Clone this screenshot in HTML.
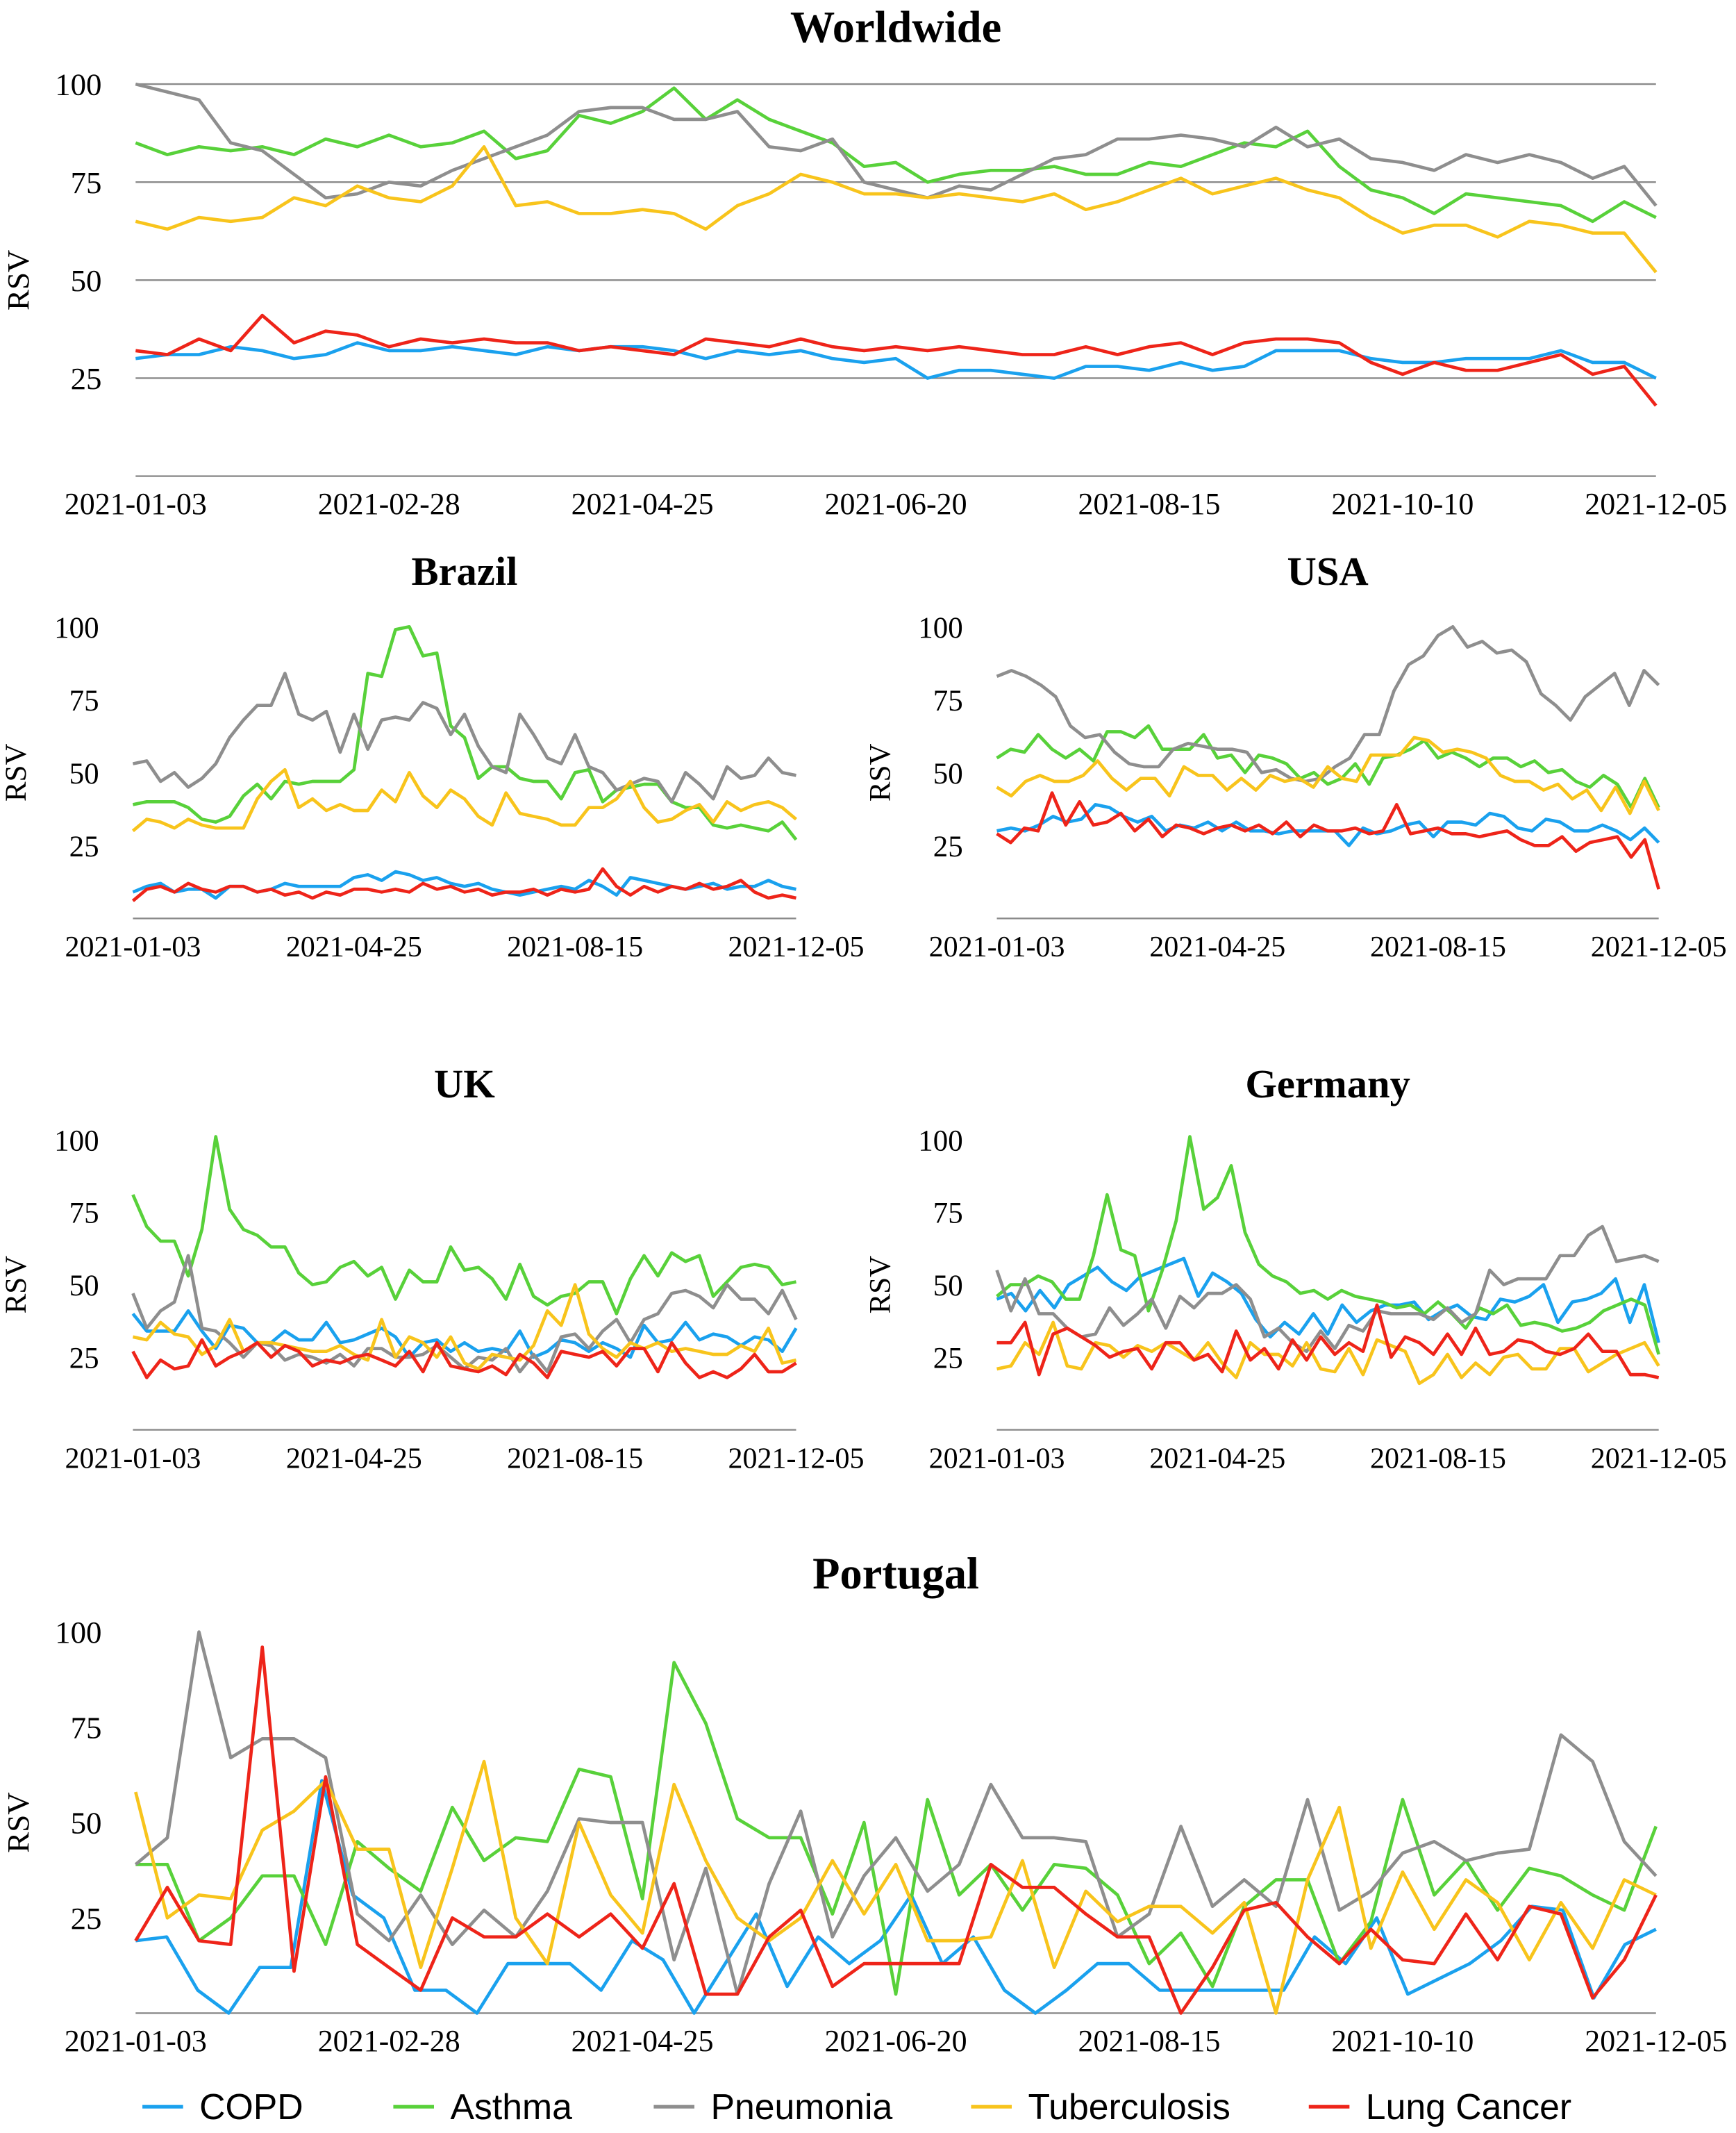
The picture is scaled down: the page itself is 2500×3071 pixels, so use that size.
<!DOCTYPE html>
<html><head><meta charset="utf-8"><style>
html,body{margin:0;padding:0;background:#fff;}
svg{display:block;}
</style></head><body>
<svg id="chart" xmlns="http://www.w3.org/2000/svg" width="2500" height="3071" viewBox="0 0 1280 1572.35">
<rect width="1280" height="1572.35" fill="#fff"/>
<g id="legend"></g>
</svg>
<script>
const seriesNames = ["COPD","Asthma","Pneumonia","Tuberculosis","Lung Cancer"];
const seriesColors = ["#1aa1ee","#58d13a","#8e8e8e","#f8c41c","#ee2419"];
const yTicks = [25,50,75,100];
const xLabelsFull = ["2021-01-03","2021-02-28","2021-04-25","2021-06-20","2021-08-15","2021-10-10","2021-12-05"];
const xLabelsShort = ["2021-01-03","2021-04-25","2021-08-15","2021-12-05"];

const wwCOPD = [30,31,31,33,32,30,31,34,32,32,33,32,31,33,32,33,33,32,30,32,31,32,30,29,30,25,27,27,26,25,28,28,27,29,27,28,32,32,32,30,29,29,30,30,30,32,29,29,25];
const wwAsthma = [85,82,84,83,84,82,86,84,87,84,85,88,81,83,92,90,93,99,91,96,91,88,85,79,80,75,77,78,78,79,77,77,80,79,82,85,84,88,79,73,71,67,72,71,70,69,65,70,66];
const wwPneu = [100,98,96,85,83,77,71,72,75,74,78,81,84,87,93,94,94,91,91,93,84,83,86,75,73,71,74,73,77,81,82,86,86,87,86,84,89,84,86,81,80,78,82,80,82,80,76,79,69];
const wwTB = [65,63,66,65,66,71,69,74,71,70,74,84,69,70,67,67,68,67,63,69,72,77,75,72,72,71,72,71,70,72,68,70,73,76,72,74,76,73,71,66,62,64,64,61,65,64,62,62,52];
const wwLung = [32,31,35,32,41,34,37,36,33,35,34,35,34,34,32,33,32,31,35,34,33,35,33,32,33,32,33,32,31,31,33,31,33,34,31,34,35,35,34,29,26,29,27,27,29,31,26,28,18];

const brCOPD = [9,11,12,9,10,10,7,11,11,9,10,12,11,11,11,11,14,15,13,16,15,13,14,12,11,12,10,9,8,9,10,11,10,13,11,8,14,13,12,11,10,11,12,10,11,11,13,11,10];
const brAsthma = [39,40,40,40,38,34,33,35,42,46,41,47,46,47,47,47,51,84,83,99,100,90,91,66,62,48,52,52,48,47,47,41,50,51,40,44,45,46,46,40,38,38,32,31,32,31,30,33,27];
const brPneu = [53,54,47,50,45,48,53,62,68,73,73,84,70,68,71,57,70,58,68,69,68,74,72,63,70,59,52,50,70,63,55,53,63,52,50,44,46,48,47,40,50,46,41,52,48,49,55,50,49];
const brTB = [30,34,33,31,34,32,31,31,31,41,47,51,38,41,37,39,37,37,44,40,50,42,38,44,41,35,32,43,36,35,34,32,32,38,38,41,47,38,33,34,37,39,33,40,37,39,40,38,34];
const brLung = [6,10,11,9,12,10,9,11,11,9,10,8,9,7,9,8,10,10,9,10,9,12,10,11,9,10,8,9,9,10,8,10,9,10,17,11,8,11,9,11,10,12,10,11,13,9,7,8,7];

const usCOPD = [30,31,30,32,35,33,34,39,38,35,33,35,30,32,31,33,30,33,30,30,29,30,30,30,30,25,31,29,30,32,33,28,33,33,32,36,35,31,30,34,33,30,30,32,30,27,31,26];
const usAsthma = [55,58,57,63,58,55,58,54,64,64,62,66,58,58,58,63,55,56,50,56,55,53,48,50,46,48,53,46,55,56,58,61,55,57,55,52,55,55,52,54,50,51,47,45,49,46,38,48,38];
const usPneu = [83,85,83,80,76,66,62,63,57,53,52,52,58,60,59,58,58,57,50,51,48,47,48,52,55,63,63,78,87,90,97,100,93,95,91,92,88,77,73,68,76,80,84,73,85,80];
const usTB = [45,42,47,49,47,47,49,54,48,44,48,48,42,52,49,49,44,48,44,49,47,48,45,52,48,47,56,56,56,62,61,57,58,57,55,49,47,47,44,46,41,44,37,45,36,47,37];
const usLung = [29,26,31,30,43,32,40,32,33,36,30,34,28,32,31,29,31,32,30,32,29,33,28,32,30,30,31,29,30,39,29,30,31,29,29,28,29,30,27,25,25,28,23,26,27,28,21,27,10];

const ukCOPD = [40,34,34,34,41,34,28,36,35,30,30,34,31,31,37,30,31,33,35,32,25,30,31,27,30,27,28,27,34,25,27,31,30,27,30,28,25,36,30,31,37,31,33,32,29,32,31,27,35];
const ukAsthma = [81,70,65,65,53,69,101,76,69,67,63,63,54,50,51,56,58,53,56,45,55,51,51,63,55,56,52,45,57,46,43,46,47,51,51,40,52,60,53,61,58,60,46,51,56,57,56,50,51];
const ukPneu = [47,35,41,44,60,35,34,30,25,30,29,24,26,25,23,26,22,28,28,25,25,26,29,25,21,25,24,28,20,26,20,32,33,28,34,38,30,38,40,47,48,46,42,50,45,45,40,48,38];
const ukTB = [32,31,37,33,32,26,29,38,27,30,30,29,28,27,27,29,26,24,38,25,32,30,25,32,23,21,26,25,24,29,41,36,50,33,28,25,30,28,30,27,28,27,26,26,29,27,35,23,24];
const ukLung = [27,18,24,21,22,31,22,25,27,30,25,29,27,22,24,23,25,26,24,22,27,20,30,22,21,20,22,19,26,23,18,27,26,25,27,22,28,28,20,30,23,18,20,18,21,26,20,20,23];

const deCOPD = [45,47,41,48,42,50,53,56,51,48,53,55,57,59,46,54,51,47,38,32,37,33,40,33,43,37,41,43,43,44,38,41,43,39,38,45,44,46,50,37,44,45,47,52,37,50,30];
const deAsthma = [46,50,50,53,51,45,45,60,81,62,60,41,55,72,101,76,80,91,68,57,53,51,47,48,45,48,46,45,44,42,43,40,44,40,35,42,40,43,36,37,36,34,35,37,41,43,45,43,26];
const dePneu = [55,41,52,40,40,35,32,33,42,36,40,45,35,46,42,47,47,50,45,32,35,30,27,34,28,36,34,41,40,40,40,38,42,37,40,55,50,52,52,52,60,60,67,70,58,59,60,58];
const deTB = [21,22,30,26,37,22,21,30,29,25,29,27,30,27,24,30,23,18,30,26,26,22,30,21,20,28,19,31,29,27,16,19,26,18,23,19,25,26,21,21,28,28,20,23,26,28,30,22];
const deLung = [30,30,37,19,33,35,32,29,25,27,28,21,30,30,24,26,20,34,24,28,21,31,24,32,26,30,27,43,25,32,30,26,33,26,35,26,27,31,30,27,26,28,33,27,27,19,19,18];

const ptCOPD = [19,20,6,0,12,12,61,31,25,6,6,0,13,13,13,6,19,14,0,13,26,7,20,13,19,31,13,20,6,0,6,13,13,6,6,6,6,6,20,13,25,5,9,13,19,28,27,4,18,22];
const ptAsthma = [39,39,19,25,36,36,18,45,38,32,54,40,46,45,64,62,30,92,76,51,46,46,26,50,5,56,31,39,27,39,38,31,13,21,7,28,35,35,13,24,56,31,40,27,38,36,31,27,49];
const ptPneu = [39,46,100,67,72,72,67,26,19,31,18,27,20,32,51,50,50,14,38,5,34,53,20,36,46,32,39,60,46,46,45,20,26,49,28,35,28,56,27,32,42,45,40,42,43,73,66,45,36];
const ptTB = [58,25,31,30,48,53,61,43,43,12,38,66,25,13,50,31,21,60,40,25,19,25,40,26,39,19,19,20,40,12,32,24,28,28,21,29,0,35,54,17,37,22,35,29,14,29,17,35,31];
const ptLung = [19,33,19,18,96,11,62,18,12,6,25,20,20,26,20,26,17,34,5,5,20,27,7,13,13,13,13,39,33,33,26,20,20,0,12,27,29,20,13,22,14,13,26,14,28,26,4,14,31];

const NS = "http://www.w3.org/2000/svg";
const svg = document.getElementById('chart');
function mk(tag, attrs, parent){ const e=document.createElementNS(NS,tag); for(const k in attrs) e.setAttribute(k,attrs[k]); parent.appendChild(e); return e; }

function panel(cfg){
  const g = mk('g',{},svg);
  
  
  const ys = v => cfg.y0 - v/100*(cfg.y0-cfg.y100);
  const xs = (i,n) => cfg.x0 + i*(cfg.x1-cfg.x0)/(n-1);
  const t = mk('text',{x:(cfg.x0+cfg.x1)/2,y:cfg.titleY,'text-anchor':'middle','font-family':'"Liberation Serif",serif','font-weight':'bold','font-size':cfg.titleSize,fill:'#000'},g);
  t.textContent = cfg.title;
  
  
  yTicks.forEach(v=>{
    if(cfg.grid){ const l=mk('line',{x1:cfg.x0,x2:cfg.x1,y1:ys(v),y2:ys(v),stroke:'#8a8a8a','stroke-width':1.2},g);
      
       }
    const tt = mk('text',{x:cfg.x0-25,y:ys(v)+8,'text-anchor':'end','font-family':'"Liberation Serif",serif','font-size':cfg.yTickSize,fill:'#000'},g);
    tt.textContent = v;
    
    
  });
  const ax = mk('line',{x1:cfg.x0,x2:cfg.x1,y1:cfg.y0,y2:cfg.y0,stroke:'#8a8a8a','stroke-width':1.2},g);
  
  
  const ra = mk('text',{x:0,y:0,'text-anchor':'middle','font-family':'"Liberation Serif",serif','font-size':cfg.yTickSize,fill:'#000',transform:`translate(${cfg.x0-79},${(cfg.y100+cfg.y0)/2}) rotate(-90)`},g);
  ra.textContent='RSV';
  
  
  const labs = cfg.labels;
  labs.forEach((s,k)=>{
    const x = cfg.x0 + k*(cfg.x1-cfg.x0)/(labs.length-1);
    const tl = mk('text',{x:x,y:cfg.y0+28,'text-anchor':'middle','font-family':'"Liberation Serif",serif','font-size':cfg.tickSize,fill:'#000'},g);
    tl.textContent = s;
    
    
  });
  cfg.series.forEach((arr,si)=>{
    const pts = arr.map((v,i)=>xs(i,arr.length).toFixed(1)+','+ys(v).toFixed(1)).join(' ');
    const p = mk('polyline',{points:pts,fill:'none',stroke:seriesColors[si],'stroke-width':cfg.lw,'stroke-linejoin':'round'},g);
    
    
  });
}
function drawPanel(cfg, c,a,p,t,l){
  cfg.series=[c,a,p,t,l]; panel(cfg);
}
drawPanel({key:'worldwide',title:'Worldwide',titleY:31,titleSize:33,x0:100,x1:1221,y100:62,y0:351,grid:true,tickSize:22.5,yTickSize:23,lw:2.4,labels:xLabelsFull}, wwCOPD,wwAsthma,wwPneu,wwTB,wwLung);
drawPanel({key:'brazil',title:'Brazil',titleY:431,titleSize:30,x0:98,x1:587,y100:462,y0:677,grid:false,tickSize:21.5,yTickSize:22,lw:2.4,labels:xLabelsShort}, brCOPD,brAsthma,brPneu,brTB,brLung);
drawPanel({key:'usa',title:'USA',titleY:431,titleSize:30,x0:735,x1:1223,y100:462,y0:677,grid:false,tickSize:21.5,yTickSize:22,lw:2.4,labels:xLabelsShort}, usCOPD,usAsthma,usPneu,usTB,usLung);
drawPanel({key:'uk',title:'UK',titleY:809,titleSize:30,x0:98,x1:587,y100:840,y0:1054,grid:false,tickSize:21.5,yTickSize:22,lw:2.4,labels:xLabelsShort}, ukCOPD,ukAsthma,ukPneu,ukTB,ukLung);
drawPanel({key:'germany',title:'Germany',titleY:809,titleSize:30,x0:735,x1:1223,y100:840,y0:1054,grid:false,tickSize:21.5,yTickSize:22,lw:2.4,labels:xLabelsShort}, deCOPD,deAsthma,dePneu,deTB,deLung);
drawPanel({key:'portugal',title:'Portugal',titleY:1171,titleSize:33,x0:100,x1:1221,y100:1203,y0:1484,grid:false,tickSize:22.5,yTickSize:23,lw:2.4,labels:xLabelsFull}, ptCOPD,ptAsthma,ptPneu,ptTB,ptLung);

const lg = document.getElementById('legend');
const legendX = [105,290,482,716,965];
seriesNames.forEach((n,i)=>{
  const g = mk('g',{},lg);
  
  
  mk('line',{x1:legendX[i],x2:legendX[i]+30,y1:1553,y2:1553,stroke:seriesColors[i],'stroke-width':2.6},g);
  const t = mk('text',{x:legendX[i]+42,y:1562,'font-family':'"Liberation Sans",sans-serif','font-size':26.5,fill:'#000'},g);
  t.textContent = n;
});
</script>
</body></html>
